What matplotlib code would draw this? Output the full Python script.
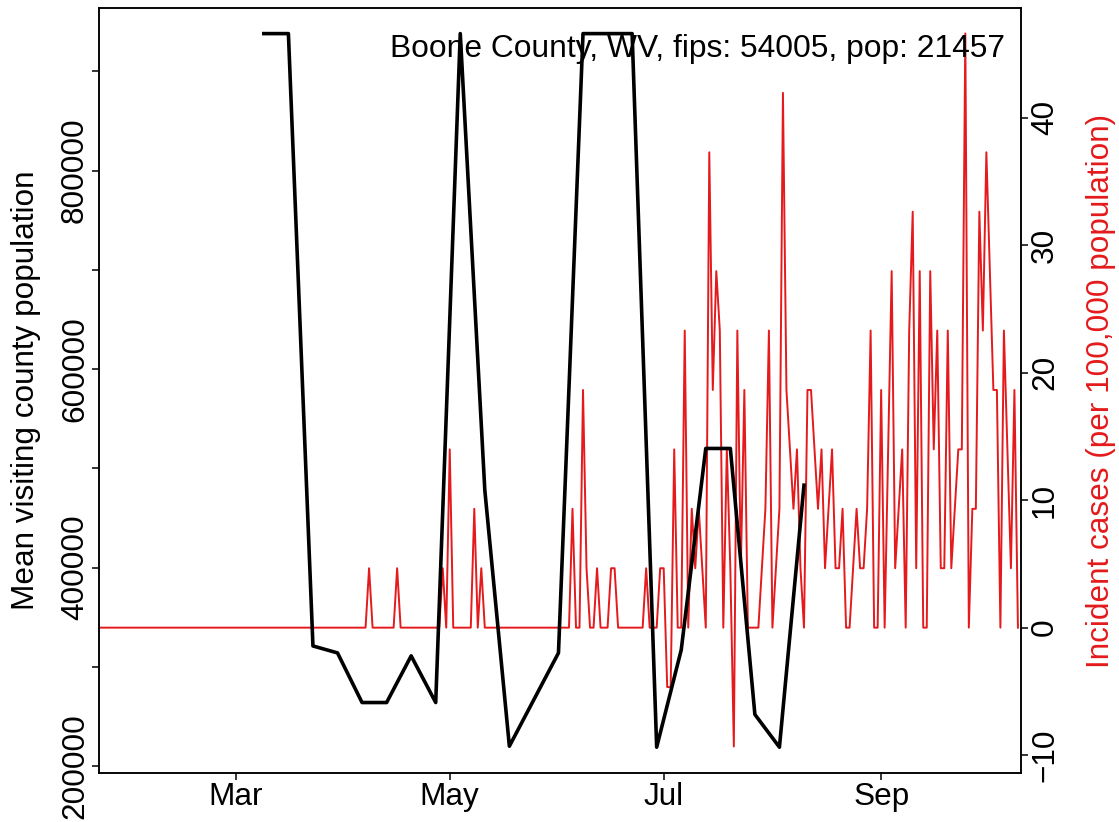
import numpy as np
import matplotlib
matplotlib.use("Agg")
import matplotlib.pyplot as plt
import matplotlib.dates as mdates

plt.rcParams['font.family'] = ['Liberation Sans', 'DejaVu Sans']

county_label = "Boone County, WV, fips: 54005, pop: 21457"
county_pop = 21457

# weekly mean visiting county population
visit_dates = np.array(['2020-03-09', '2020-03-16', '2020-03-23', '2020-03-30',
                        '2020-04-06', '2020-04-13', '2020-04-20', '2020-04-27',
                        '2020-05-04', '2020-05-11', '2020-05-18', '2020-05-25',
                        '2020-06-01', '2020-06-08', '2020-06-15', '2020-06-22',
                        '2020-06-29', '2020-07-06', '2020-07-13', '2020-07-20',
                        '2020-07-27', '2020-08-03', '2020-08-10'], dtype='datetime64[D]')
visit_pop = [938000, 938000, 321000, 314000,
             264000, 264000, 311000, 264000,
             938000, 478000, 220000, 267000,
             314000, 938000, 938000, 938000,
             219000, 317000, 520000, 520000,
             252000, 219000, 483000]

# daily new cases, 2020-01-22 .. 2020-10-10
case_start = np.datetime64('2020-01-22')
cases_jan = [0] * 10
cases_feb = [0] * 29
cases_mar = [0] * 31
cases_apr = [0, 0, 0, 0, 0, 0, 0, 1, 0, 0, 0, 0, 0, 0, 0, 1, 0, 0, 0, 0,
             0, 0, 0, 0, 0, 0, 0, 0, 1, 0]
cases_may = [3, 0, 0, 0, 0, 0, 0, 2, 0, 1, 0, 0, 0, 0, 0, 0, 0, 0, 0, 0,
             0, 0, 0, 0, 0, 0, 0, 0, 0, 0, 0]
cases_jun = [0, 0, 0, 0, 2, 0, 0, 4, 1, 0, 0, 1, 0, 0, 0, 1, 1, 0, 0, 0,
             0, 0, 0, 0, 0, 1, 0, 0, 0, 1]
cases_jul = [1, -1, -1, 3, 0, 0, 5, 0, 2, 1, 2, 1, 0, 8, 4, 6, 5, 0, 3, 1,
             -2, 5, 1, 4, 0, 0, 0, 0, 1, 2, 5]
cases_aug = [0, 1, 2, 9, 4, 3, 2, 3, 1, 0, 4, 4, 3, 2, 3, 1, 2, 3, 1, 1,
             2, 0, 0, 1, 2, 1, 1, 2, 5, 0, 0]
cases_sep = [4, 0, 3, 6, 1, 2, 3, 0, 5, 7, 1, 6, 0, 0, 6, 3, 5, 1, 1, 5,
             1, 2, 3, 3, 10, 0, 2, 2, 7, 5]
cases_oct = [8, 6, 4, 4, 0, 5, 3, 1, 4, 0]

cases = np.array(cases_jan + cases_feb + cases_mar + cases_apr + cases_may +
                 cases_jun + cases_jul + cases_aug + cases_sep + cases_oct)
case_dates = case_start + np.arange(len(cases))
incidence = cases * 1e5 / county_pop

red = '#e41a1c'
fs = 22.7

fig = plt.figure(figsize=(11.19, 8.22), dpi=100)
ax = fig.add_axes([99 / 1119, 1 - 773 / 822, 922 / 1119, 765 / 822])
ax2 = ax.twinx()
# black line sits above the red one
ax.set_zorder(ax2.get_zorder() + 1)
ax.patch.set_visible(False)

ax2.plot(case_dates, incidence, color=red, lw=1.4)
ax.plot(visit_dates, visit_pop, color='black', lw=2.6)

xmin = np.datetime64('2020-01-22')
xmax = np.datetime64('2020-10-10T21:00')
ax.set_xlim(xmin, xmax)
ax.set_ylim(193000, 963800)
ax2.set_ylim(-11.4, 48.6)

ax.xaxis.set_major_locator(mdates.MonthLocator(bymonth=[3, 5, 7, 9]))
ax.xaxis.set_major_formatter(mdates.DateFormatter('%b'))

yt = np.arange(200000, 900001, 100000)
ax.set_yticks(yt)
ax.set_yticklabels([str(v) if v % 200000 == 0 else '' for v in yt],
                   rotation=90, va='center')
ax2.set_yticks([-10, 0, 10, 20, 30, 40])
ax2.set_yticklabels(['\u221210', '0', '10', '20', '30', '40'],
                    rotation=90, va='center')

for a in (ax, ax2):
    a.tick_params(length=5, width=1.1, labelsize=fs, pad=1.5, direction='out')
    for s in a.spines.values():
        s.set_linewidth(1.1)

ax.set_ylabel('Mean visiting county population', fontsize=fs)
ax.yaxis.set_label_coords(-0.063, 0.5)
ax2.set_ylabel('Incident cases (per 100,000 population)', fontsize=fs, color=red)
ax2.yaxis.set_label_coords(1.07, 0.5)

ax.text(0.9826, 0.9366, county_label, transform=ax.transAxes,
        ha='right', va='baseline', fontsize=22.9)

fig.savefig('out.png', dpi=100)
